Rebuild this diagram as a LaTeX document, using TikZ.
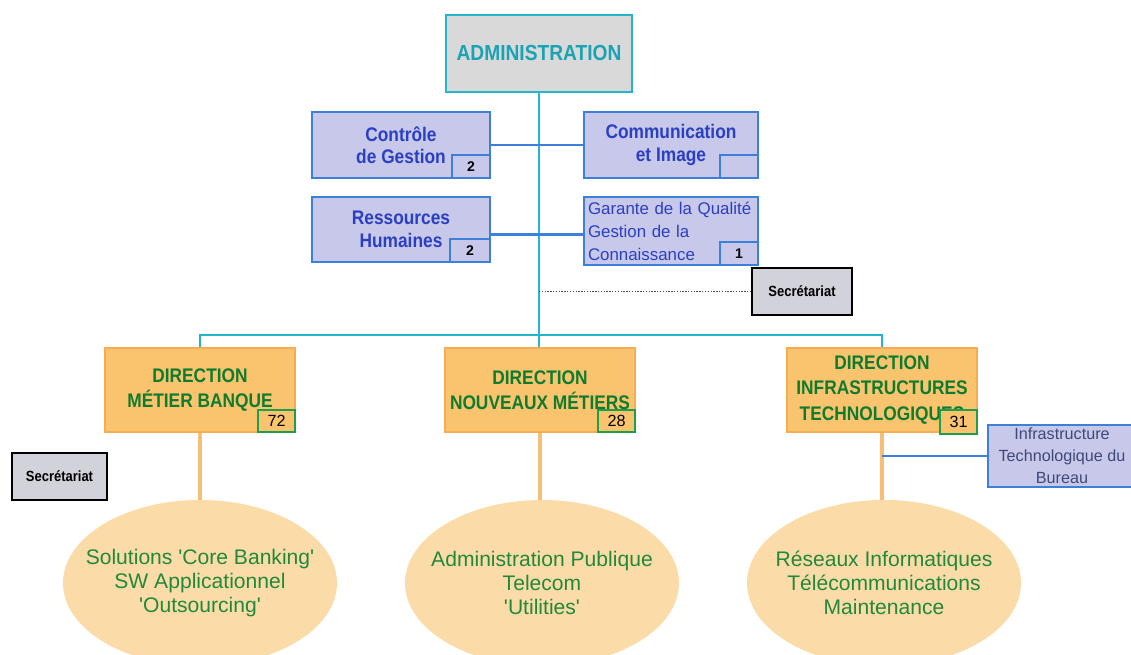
\documentclass[tikz,border=0pt]{standalone}
\usepackage{fontspec}
\setmainfont{Liberation Sans}
\newfontfamily\narrowfont[FakeStretch=0.88]{Liberation Sans}
\usetikzlibrary{shapes.geometric}
\definecolor{cyanline}{HTML}{22B5CC}
\definecolor{admintext}{HTML}{1AA3B5}
\definecolor{adminfill}{HTML}{D9D9D9}
\definecolor{lavfill}{HTML}{C8C8EA}
\definecolor{lavline}{HTML}{3D80DA}
\definecolor{lavtext}{HTML}{2B3FC2}
\definecolor{itbtext}{HTML}{404878}
\definecolor{dirfill}{HTML}{FAC46E}
\definecolor{dirline}{HTML}{F4AD50}
\definecolor{dirtext}{HTML}{0F7B2E}
\definecolor{numline}{HTML}{1E9E4A}
\definecolor{ellfill}{HTML}{FBDCA8}
\definecolor{elltext}{HTML}{22883A}
\definecolor{orangeline}{HTML}{F7BE78}
\definecolor{secfill}{HTML}{D2D2DA}
\newlength\pxu
\setlength\pxu{0.025cm}
\begin{document}
\begin{tikzpicture}[x=0.025cm,y=-0.025cm,
  adminbox/.style={draw=cyanline,fill=adminfill,line width=1.2pt,minimum width=186\pxu,minimum height=77\pxu,
    text=admintext,font=\narrowfont\bfseries\fontsize{15.5}{18}\selectfont},
  lavbox/.style={draw=lavline,fill=lavfill,line width=1pt,minimum width=178\pxu,minimum height=66\pxu,
    inner sep=0pt,align=center,text=lavtext,font=\narrowfont\bfseries\fontsize{14}{16}\selectfont},
  numbox/.style={draw=lavline,fill=lavfill,line width=1pt,minimum width=38\pxu,minimum height=23\pxu,
    inner sep=0pt,anchor=south east,font=\bfseries\fontsize{10}{12}\selectfont},
  dirbox/.style={draw=dirline,fill=dirfill,line width=1pt,minimum width=190\pxu,minimum height=84\pxu,
    inner sep=0pt,align=center,text=dirtext,font=\narrowfont\bfseries\fontsize{14}{18}\selectfont},
  dirnum/.style={draw=numline,fill=dirfill,line width=1pt,minimum width=37\pxu,minimum height=22\pxu,
    inner sep=0pt,anchor=south east,font=\fontsize{11.5}{13}\selectfont},
  secbox/.style={draw=black,fill=secfill,line width=1pt,minimum width=100\pxu,minimum height=47\pxu,
    inner sep=0pt,font=\narrowfont\bfseries\fontsize{10.5}{12}\selectfont},
  ell/.style={ellipse,fill=ellfill,minimum width=274\pxu,minimum height=166\pxu,inner xsep=-30\pxu,inner ysep=0pt,
    align=center,text=elltext,font=\fontsize{15}{17.2}\selectfont},
  cyanwire/.style={draw=cyanline,line width=1.1pt},
  bluewire/.style={draw=lavline,line width=1.1pt},
  orangewire/.style={draw=orangeline,line width=2.2pt}]
\useasboundingbox (0,0) rectangle (1131,655);
\fill[white] (0,0) rectangle (1131,655);
% top of the chart
\node[adminbox] (admin) at (539,53.5) {ADMINISTRATION};
\coordinate (bus) at (539,335);
\draw[cyanwire] (admin.south) -- (bus);
% staff services
\node[lavbox] (cg) at (401,145) {Contrôle\\de Gestion};
\node[numbox] (cgn) at (cg.south east) {2};
\node[lavbox,minimum width=174\pxu] (ci) at (671,145) {Communication\\et Image};
\node[numbox] (cin) at (ci.south east) {};
\node[lavbox,minimum height=65\pxu] (rh) at (401,229.5) {Ressources\\Humaines};
\node[numbox,minimum width=40\pxu] (rhn) at (rh.south east) {2};
\node[lavbox,minimum width=174\pxu,minimum height=68\pxu,text width=166\pxu,align=left,
  font=\fontsize{12}{16.4}\selectfont] (gq) at (671,231) {Garante de la Qualité\\Gestion de la\\Connaissance};
\node[numbox] (gqn) at (gq.south east) {1};
\draw[bluewire] (cg.east) -- (ci.west);
\draw[bluewire,line width=1.6pt] ([yshift=-5\pxu]rh.east) -- ([yshift=-5\pxu]rh.east -| gq.west);
\node[secbox] (sec1) at (802,291.5) {Secrétariat};
\draw[densely dotted,draw=black!70,line width=1pt] (sec1.west) -- (sec1.west -| bus);
% directions
\node[dirbox] (dmb) at (200,390) {DIRECTION\\MÉTIER BANQUE};
\node[dirnum] (dmbn) at (dmb.south east) {72};
\node[dirbox] (dnm) at (540,390) {DIRECTION\\NOUVEAUX MÉTIERS};
\node[dirnum] (dnmn) at (dnm.south east) {28};
\node[dirbox] (dit) at (882,390) {DIRECTION\\INFRASTRUCTURES\\TECHNOLOGIQUES};
\node[dirnum,minimum height=24\pxu] (ditn) at ([yshift=-2\pxu]dit.south east) {31};
\draw[cyanwire] (dmb.north) |- (bus) -| (dit.north);
\draw[cyanwire] (bus) -- (bus |- dnm.north);
\node[secbox,minimum width=95\pxu] (sec2) at (59.5,476.5) {Secrétariat};
% activities
\node[ell] (e1) at (200,583) {Solutions \textquotesingle Core Banking\textquotesingle\\SW Applicationnel\\\textquotesingle Outsourcing\textquotesingle};
\node[ell] (e2) at (542,583) {Administration Publique\\Telecom\\\textquotesingle Utilities\textquotesingle};
\node[ell] (e3) at (884,583) {Réseaux Informatiques\\Télécommunications\\Maintenance};
\draw[orangewire] (dmb.south) -- (dmb.south |- e1.north);
\draw[orangewire] (dnm.south) -- (dnm.south |- e2.north);
\draw[orangewire] (dit.south) -- (dit.south |- e3.north);
\node[lavbox,minimum width=148\pxu,minimum height=62\pxu,text=itbtext,
  font=\fontsize{11.5}{15.6}\selectfont] (itb) at (1062,456) {Infrastructure\\Technologique du\\Bureau};
\draw[bluewire,line width=1.6pt] (itb.west) -- (itb.west -| dit.south);
\end{tikzpicture}
\end{document}
